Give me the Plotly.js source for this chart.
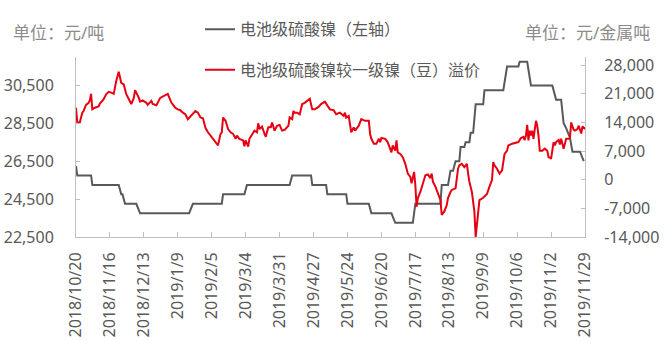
<!DOCTYPE html>
<html>
<head>
<meta charset="utf-8">
<script src="https://cdn.plot.ly/plotly-3.0.1.min.js"></script>
<style>
  html, body { margin: 0; padding: 0; background: #fff; }
  #chart { width: 665px; height: 341px; }
</style>
</head>
<body>
<div id="chart"></div>
<script>
// ---- data (x = days since 2018-10-20) ----
const startDate = '2018-10-20';

// 电池级硫酸镍 (left axis, 元/吨)
const nickelSulfateDays = [0,1,12,13,34,36,37,39,48,51,90,93,116,117,134,136,170,172,187,188,199,200,215,216,233,235,251,254,268,270,290,291,296,298,300,302,305,306,309,310,313,314,316,318,324,325,340,343,352,353,359,362,379,382,386,388,390,393,395,401,404];
const nickelSulfatePrice = [26250,25750,25750,25250,25250,24750,24750,24250,24250,23750,23750,24250,24250,24750,24750,25250,25250,25750,25750,25250,25250,24750,24750,24250,24250,23750,23750,23250,23250,24250,24250,25250,25250,26000,26000,26500,26500,27250,27250,27500,27500,28000,28000,29500,29500,30250,30250,31500,31500,31750,31750,30500,30500,29750,29750,28500,28250,27750,27000,27000,26500];

// 电池级硫酸镍较一级镍（豆）溢价 (right axis, 元/金属吨)
const premiumDays = [0,1,3,5,6,8,10,11,12,13,15,18,19,22,24,26,28,30,32,34,36,38,40,42,44,46,47,50,51,53,56,57,60,61,64,67,71,73,76,79,81,83,85,87,89,91,93,95,97,99,101,103,105,109,113,115,116,117,119,121,123,125,127,128,130,133,134,135,137,138,140,142,144,145,146,148,150,151,153,155,156,158,160,162,164,166,169,170,172,173,174,176,178,180,182,184,186,188,190,193,195,198,200,202,205,207,210,213,214,215,217,218,219,221,222,225,227,230,233,234,235,237,239,241,242,243,246,248,251,252,254,255,256,258,260,262,264,266,267,269,270,271,272,274,276,278,280,282,283,284,286,288,290,291,293,295,296,298,299,302,304,305,307,309,311,312,313,315,317,318,320,321,324,327,329,331,332,333,335,337,339,340,341,343,344,347,349,352,354,356,357,358,359,360,361,362,363,364,366,367,368,369,371,373,375,376,377,378,380,381,382,384,385,386,388,389,390,392,393,394,396,397,399,400,402,403,405];
const premiumValue = [17600,14000,14000,16400,16800,18300,18800,19400,21000,17200,17600,17900,18600,19700,20900,21500,21300,21000,24100,26400,23700,23300,20900,19700,18500,20000,21900,20000,19100,19400,18800,18300,19300,18500,18200,20000,20600,21000,18800,17600,17200,17000,16400,16000,14800,15400,16000,16800,16400,15200,15000,12700,11600,10000,8400,11200,11600,15200,14400,12400,11600,11200,10000,10800,10000,9600,8200,9600,8100,10000,11200,12000,11600,13800,12400,13000,11200,10500,12800,12800,14000,12000,13200,13400,12000,12200,13200,15200,14800,16800,16400,16400,16000,18500,18800,19300,19800,17200,17200,17800,18500,19100,18100,17200,17000,16000,16400,15600,16400,15200,15600,12800,11600,12800,12000,13200,14800,14400,14400,11200,10000,8800,8800,10000,9200,10200,10000,9200,6700,8400,7100,9600,6700,6300,5500,3900,1500,700,-900,1900,-1300,-6600,-4500,-3000,-900,1100,1300,400,1500,-500,-1700,-3300,-5000,-8600,-7800,-6200,-4500,-3000,-2500,-2100,2700,3500,3900,3100,3900,1500,-500,-3000,-7800,-14000,-7800,-5000,-4400,-3500,-1700,-100,4300,3500,2700,1500,2300,3900,6300,7100,8400,8800,8900,9200,10200,10500,9700,10800,13400,9600,12000,10800,12000,10000,14400,13200,10800,7100,7100,7600,7100,5500,5400,5100,9200,8400,9200,9700,8600,10000,7600,8800,10000,10000,10200,14000,12200,12000,12400,13200,11300,13000,12400];

// axis ticks
const xTickDates = ['2018-10-20','2018-11-16','2018-12-13','2019-01-09','2019-02-05','2019-03-04','2019-03-31','2019-04-27','2019-05-24','2019-06-20','2019-07-17','2019-08-13','2019-09-09','2019-10-06','2019-11-02','2019-11-29'];
const xTickLabels = ['2018/10/20','2018/11/16','2018/12/13','2019/1/9','2019/2/5','2019/3/4','2019/3/31','2019/4/27','2019/5/24','2019/6/20','2019/7/17','2019/8/13','2019/9/9','2019/10/6','2019/11/2','2019/11/29'];
const leftTicks = [22500,24500,26500,28500,30500];
const leftTickLabels = ['22,500','24,500','26,500','28,500','30,500'];
const rightTicks = [-14000,-7000,0,7000,14000,21000,28000];
const rightTickLabels = ['-14,000','-7,000','0','7,000','14,000','21,000','28,000'];

// ---- helpers ----
const t0 = Date.parse(startDate + 'T00:00:00Z');
function dayToDate(d) { return new Date(t0 + d * 86400000).toISOString().slice(0, 10); }

const FONT = 'Noto Sans, Noto Sans CJK SC, sans-serif';
const TXT = '#595959';
const AXIS = '#bfbfbf';

const traces = [
  {
    type: 'scatter', mode: 'lines',
    name: '电池级硫酸镍（左轴）',
    x: nickelSulfateDays.map(dayToDate), y: nickelSulfatePrice,
    yaxis: 'y', legend: 'legend',
    line: { color: '#595959', width: 2 }
  },
  {
    type: 'scatter', mode: 'lines',
    name: '电池级硫酸镍较一级镍（豆）溢价',
    x: premiumDays.map(dayToDate), y: premiumValue,
    yaxis: 'y2', legend: 'legend2',
    line: { color: '#e60012', width: 2 }
  }
];

const axisCommon = {
  showgrid: false, zeroline: false, showline: true,
  linecolor: AXIS, linewidth: 1,
  ticks: 'inside', tickcolor: AXIS, tickwidth: 1,
  tickfont: { family: FONT, size: 16, color: TXT }
};

const layout = {
  width: 665, height: 341,
  margin: { l: 76, r: 80, t: 55, b: 104, pad: 0 },
  paper_bgcolor: '#ffffff', plot_bgcolor: '#ffffff',
  font: { family: FONT, size: 16, color: TXT },
  showlegend: true,
  xaxis: Object.assign({}, axisCommon, {
    type: 'date',
    range: [dayToDate(0), dayToDate(405)],
    tickmode: 'array', tickvals: xTickDates, ticktext: xTickLabels,
    tickangle: -90, ticklen: 5, ticklabelstandoff: 8
  }),
  yaxis: Object.assign({}, axisCommon, {
    range: [22500, 32000],
    tickmode: 'array', tickvals: leftTicks, ticktext: leftTickLabels,
    ticklen: 4, ticklabelstandoff: 18
  }),
  yaxis2: Object.assign({}, axisCommon, {
    overlaying: 'y', side: 'right',
    range: [-14000, 30000],
    tickmode: 'array', tickvals: rightTicks, ticktext: rightTickLabels,
    ticklen: 4, ticklabelstandoff: 15
  }),
  legend: {
    x: (200 - 76) / 509, xanchor: 'left',
    y: (237 - 27) / 182, yanchor: 'middle',
    bgcolor: 'rgba(0,0,0,0)', borderwidth: 0,
    font: { family: FONT, size: 16, color: TXT }
  },
  legend2: {
    x: (200 - 76) / 509, xanchor: 'left',
    y: (237 - 68) / 182, yanchor: 'middle',
    bgcolor: 'rgba(0,0,0,0)', borderwidth: 0,
    font: { family: FONT, size: 16, color: TXT }
  },
  annotations: [
    {
      text: '单位：元/吨', xref: 'paper', yref: 'paper',
      x: (11 - 76) / 509, xanchor: 'left', y: (237 - 30) / 182, yanchor: 'middle',
      showarrow: false, font: { family: FONT, size: 17, color: '#8c8c8c' }
    },
    {
      text: '单位：元/金属吨', xref: 'paper', yref: 'paper',
      x: (652 - 76) / 509, xanchor: 'right', y: (237 - 30) / 182, yanchor: 'middle',
      showarrow: false, font: { family: FONT, size: 17, color: '#8c8c8c' }
    }
  ]
};

Plotly.newPlot('chart', traces, layout, { displayModeBar: false, staticPlot: true });
</script>
</body>
</html>
